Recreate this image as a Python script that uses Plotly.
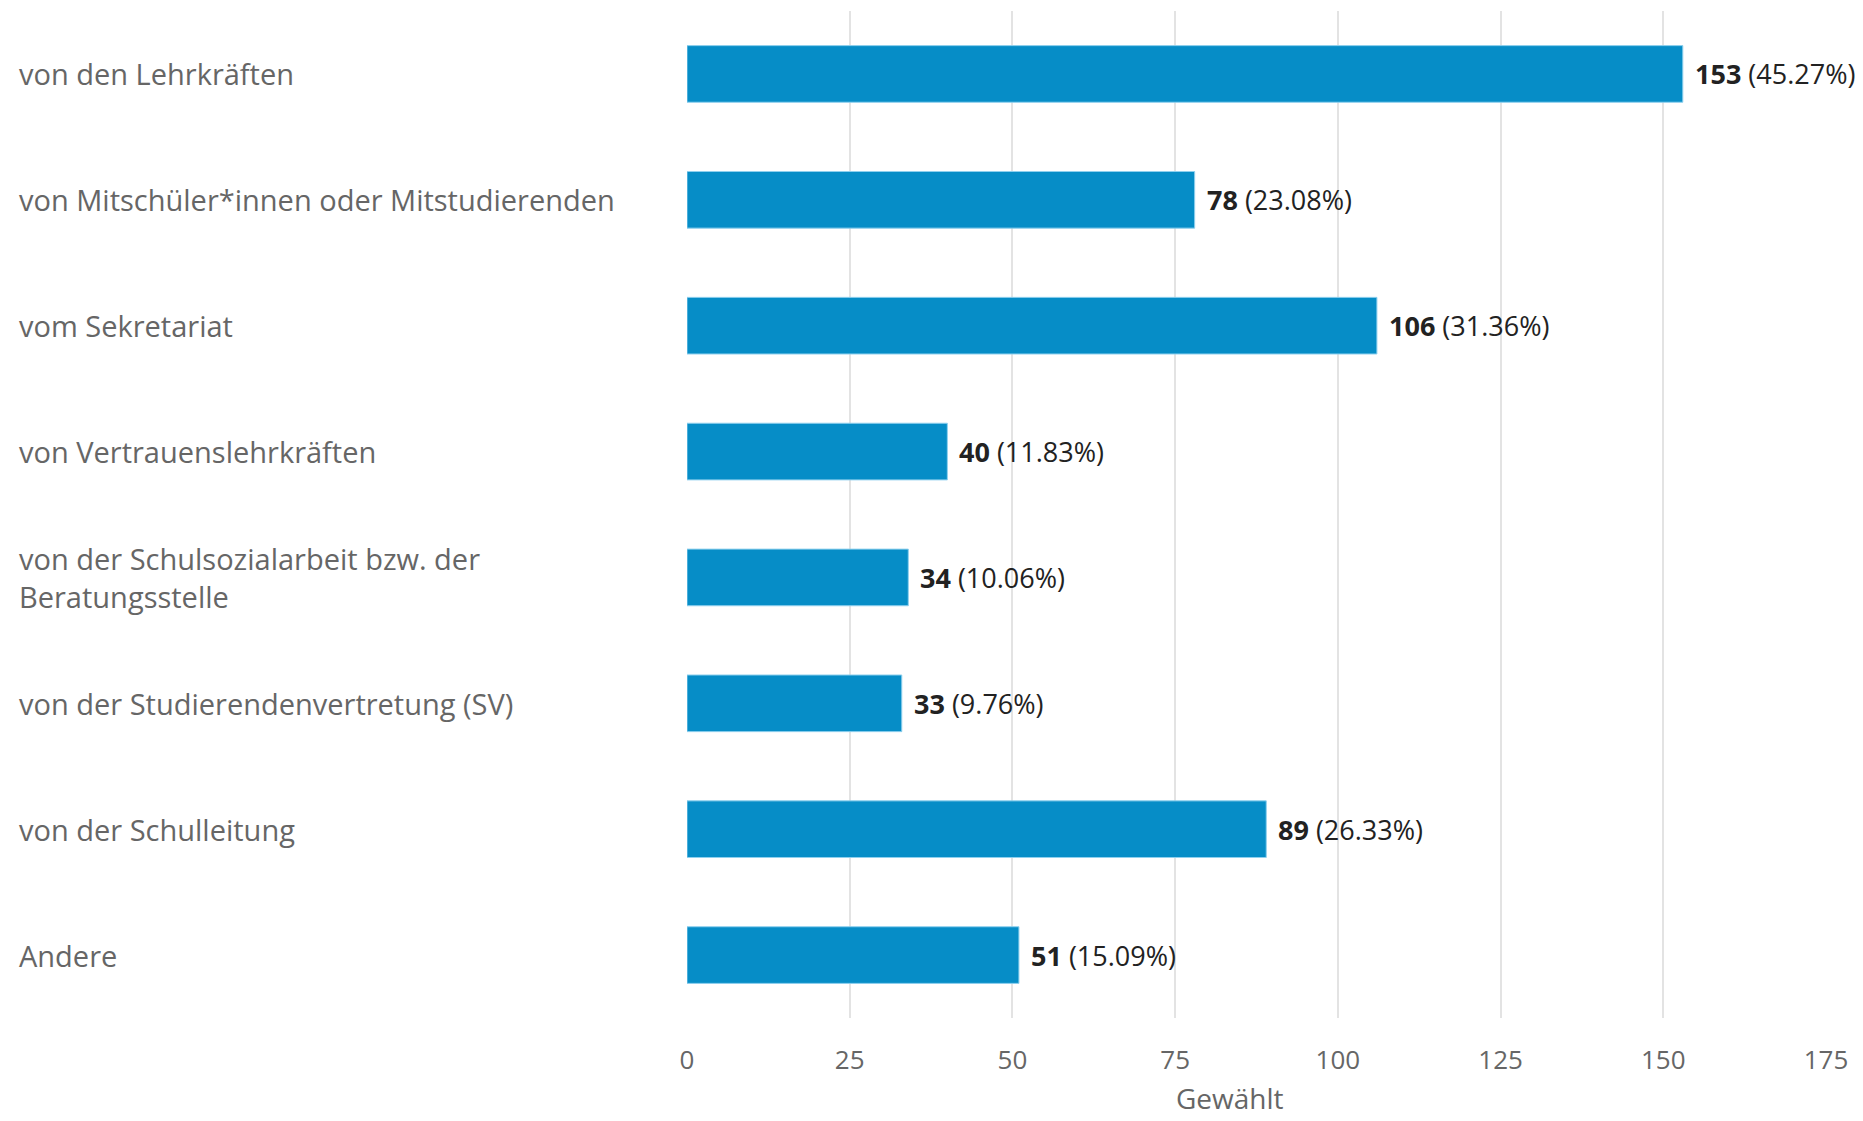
import plotly.graph_objects as go

categories = [
    "von den Lehrkräften",
    "von Mitschüler*innen oder Mitstudierenden",
    "vom Sekretariat",
    "von Vertrauenslehrkräften",
    "von der Schulsozialarbeit bzw. der<br>Beratungsstelle",
    "von der Studierendenvertretung (SV)",
    "von der Schulleitung",
    "Andere",
]
counts = [153, 78, 106, 40, 34, 33, 89, 51]
percents = ["45.27%", "23.08%", "31.36%", "11.83%", "10.06%", "9.76%", "26.33%", "15.09%"]
x_ticks = [0, 25, 50, 75, 100, 125, 150, 175]

FONT = "Open Sans"

fig = go.Figure()
fig.add_trace(go.Bar(
    x=counts,
    y=list(range(len(categories))),
    orientation="h",
    marker=dict(color="#068dc7", line=dict(color="#8fd0ee", width=1)),
    width=0.45,
))

# left-aligned category labels
for i, cat in enumerate(categories):
    fig.add_annotation(
        x=0, xref="paper", xshift=-670, y=i, yref="y",
        text=cat, showarrow=False, xanchor="left", align="left",
        font=dict(family=FONT, size=29, color="#666666"),
    )

# value labels next to bars
for i, (c, p) in enumerate(zip(counts, percents)):
    fig.add_annotation(
        x=c, y=i, xref="x", yref="y", xshift=10,
        text="<b>%d</b> (%s)" % (c, p), showarrow=False, xanchor="left",
        font=dict(family=FONT, size=27, color="#222222"),
    )

# axis title
fig.add_annotation(
    x=0.477, xref="paper", y=0, yref="paper", yshift=-80,
    text="Gewählt", showarrow=False, xanchor="center", yanchor="middle",
    font=dict(family=FONT, size=28, color="#666666"),
)

fig.update_layout(
    width=1847, height=1113,
    plot_bgcolor="white", paper_bgcolor="white",
    margin=dict(l=679, r=29, t=3, b=103),
    showlegend=False,
    bargap=0.55,
    xaxis=dict(
        range=[0, 175], tickvals=x_ticks,
        showgrid=True, gridcolor="#e3e3e3", gridwidth=2,
        zeroline=False, showline=False,
        tickfont=dict(family=FONT, size=26, color="#666666"),
        ticks="", ticklabelstandoff=24,
    ),
    yaxis=dict(
        range=[7.5, -0.5], showticklabels=False, showgrid=False,
        zeroline=False, showline=False,
    ),
)

fig.write_html("out.html")
